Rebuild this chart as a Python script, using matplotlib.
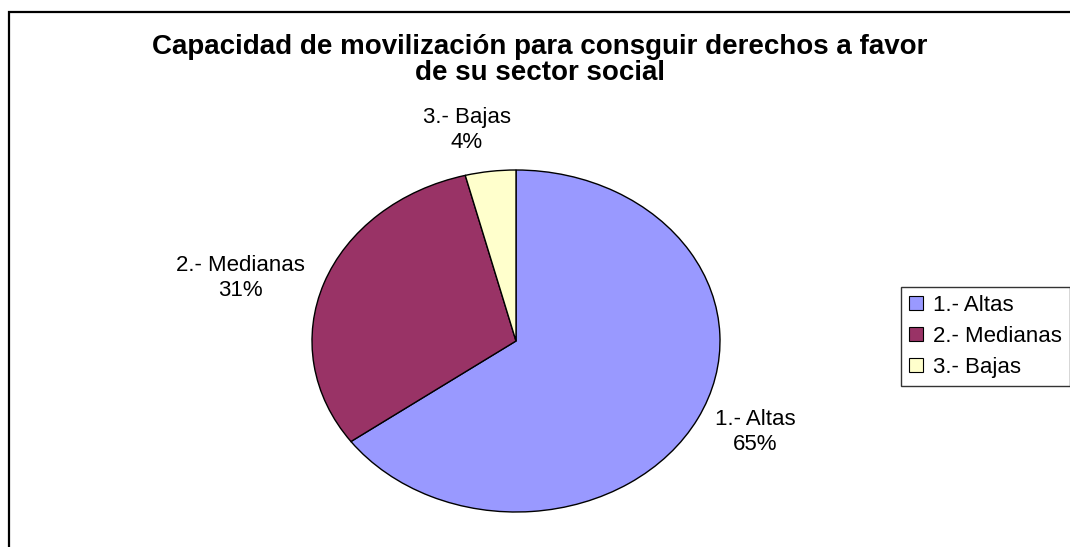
import matplotlib
matplotlib.use("Agg")
import matplotlib.pyplot as plt
from matplotlib.patches import Rectangle

plt.rcParams['font.family'] = ['Liberation Sans', 'DejaVu Sans']

title = "Capacidad de movilización para consguir derechos a favor\nde su sector social"
categories = ["1.- Altas", "2.- Medianas", "3.- Bajas"]
values = [65, 31, 4]
colors = ["#9999FF", "#993366", "#FFFFCC"]

W, H = 1070, 547
fig = plt.figure(figsize=(W / 100, H / 100), dpi=100)
fig.patch.set_facecolor("white")

# outer chart frame (left and top edges visible, the rest runs off the canvas)
fig.patches.append(Rectangle((9 / W, -0.05), 1.1, 1 - 12 / H + 0.05,
                             transform=fig.transFigure, fill=False,
                             edgecolor="black", linewidth=1.6))

# pie drawn in an axes that is wider than tall, giving the elliptical shape
cx, cy, rx, ry = 516, 341, 204, 171
ax = fig.add_axes([(cx - rx) / W, 1 - (cy + ry) / H, 2 * rx / W, 2 * ry / H])
wedges, _ = ax.pie(values, colors=colors, startangle=90, counterclock=False,
                   wedgeprops=dict(edgecolor="black", linewidth=1.0))
ax.set_aspect("auto")
ax.set_xlim(-1, 1)
ax.set_ylim(-1, 1)
ax.axis("off")

total = sum(values)
label_pos = [(755, 432), (240, 278), (467, 130)]
for cat, v, (px, py) in zip(categories, values, label_pos):
    fig.text(px / W, 1 - py / H, f"{cat}\n{round(100 * v / total)}%",
             ha="center", va="center", fontsize=16, linespacing=1.2,
             multialignment="center")

fig.text(540 / W, 1 - 60 / H, title, ha="center", va="center",
         fontsize=20, fontweight="bold", linespacing=1.0)

leg = fig.legend(wedges, categories, loc="upper left",
                 bbox_to_anchor=(901 / W, 1 - 287 / H), borderaxespad=0,
                 fontsize=16, frameon=True, fancybox=False, edgecolor="black",
                 handlelength=0.63, handleheight=0.63, handletextpad=0.45,
                 borderpad=0.36, labelspacing=0.45)
leg.get_frame().set_linewidth(1.0)
for h in leg.legend_handles:
    h.set_edgecolor("black")
    h.set_linewidth(0.8)

fig.savefig("out.png", dpi=100)
